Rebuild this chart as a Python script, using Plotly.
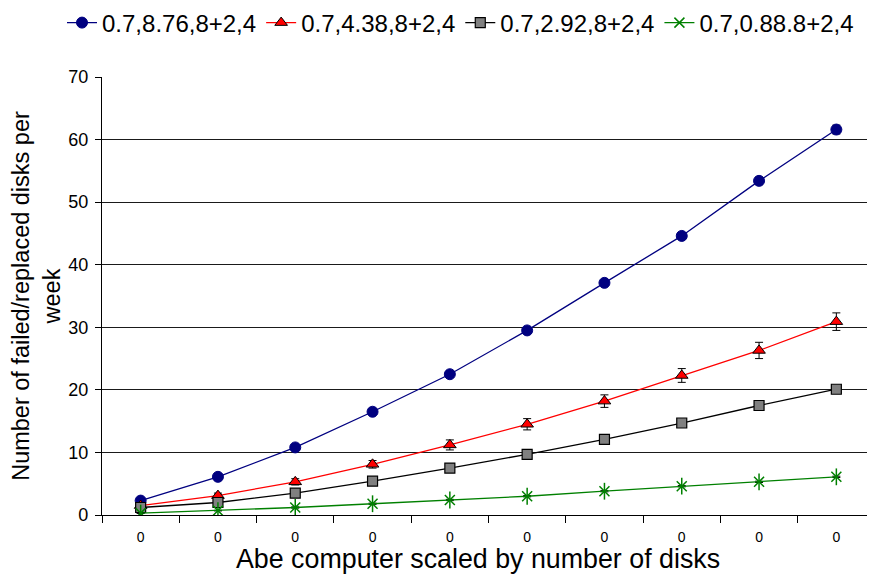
import plotly.graph_objects as go

categories = ["0"] * 10
series_names = ["0.7,8.76,8+2,4", "0.7,4.38,8+2,4", "0.7,2.92,8+2,4", "0.7,0.88.8+2,4"]
blue_vals = [2.3, 6.1, 10.8, 16.5, 22.5, 29.5, 37.1, 44.6, 53.4, 61.6]
red_vals = [1.5, 3.1, 5.3, 8.1, 11.2, 14.5, 18.2, 22.3, 26.3, 30.9]
gray_vals = [1.2, 2.0, 3.5, 5.4, 7.5, 9.7, 12.1, 14.7, 17.5, 20.1]
green_vals = [0.3, 0.7, 1.2, 1.8, 2.4, 3.0, 3.8, 4.6, 5.3, 6.1]
blue_err = [0.2, 0.2, 0.3, 0.3, 0.3, 0.4, 0.4, 0.5, 0.6, 0.7]
red_err = [0.3, 0.4, 0.5, 0.6, 0.8, 0.9, 1.0, 1.1, 1.3, 1.4]
gray_err = [0.1, 0.1, 0.1, 0.2, 0.2, 0.2, 0.2, 0.3, 0.3, 0.3]
green_err = [0.05, 0.05, 0.1, 0.1, 0.1, 0.1, 0.1, 0.1, 0.1, 0.1]
y_ticks = [0, 10, 20, 30, 40, 50, 60, 70]
x_title = "Abe computer scaled by number of disks"
y_title = "Number of failed/replaced disks per<br>week"

x = list(range(len(categories)))

styles = [
    dict(vals=blue_vals, err=blue_err, line="#000080", marker=dict(symbol="circle", size=11, color="#000080", line=dict(color="#000080", width=1))),
    dict(vals=red_vals, err=red_err, line="#FF0000", marker=dict(symbol="triangle-up", size=11, color="#FF0000", line=dict(color="#000000", width=1))),
    dict(vals=gray_vals, err=gray_err, line="#000000", marker=dict(symbol="square", size=10, color="#808080", line=dict(color="#000000", width=1.2))),
    dict(vals=green_vals, err=green_err, line="#008000", marker=dict(symbol="x-thin-open", size=10, color="#008000", line=dict(color="#008000", width=1.5))),
]

fig = go.Figure()
for name, s in zip(series_names, styles):
    fig.add_trace(go.Scatter(
        x=x, y=s["vals"], name=name, mode="lines+markers",
        line=dict(color=s["line"], width=1.3),
        marker=s["marker"],
        error_y=dict(type="data", array=s["err"], visible=True, color="#000000", thickness=1, width=4),
    ))
# vertical stroke of the green star marker
fig.add_trace(go.Scatter(
    x=x, y=green_vals, mode="markers", showlegend=False, hoverinfo="skip",
    marker=dict(symbol="line-ns-open", size=12, color="#008000", line=dict(color="#008000", width=1.5)),
))

# page body has an 8px default margin; the figure is sized so the page matches 875x574
W, H = 867, 566
L, T, B = 94, 69, 59
plot_w = W - L
plot_h = H - T - B

fig.update_layout(
    width=W, height=H,
    margin=dict(l=L, r=0, t=T, b=B, autoexpand=False),
    paper_bgcolor="white", plot_bgcolor="white",
    font=dict(family="Liberation Sans, Arial, sans-serif", color="#000000"),
    showlegend=True,
    legend=dict(orientation="h", x=(54 - L) / plot_w, xanchor="left", xref="paper",
                y=(plot_h + T - 15) / plot_h, yanchor="middle", yref="paper",
                font=dict(size=24), itemwidth=30, tracegroupgap=0),
    xaxis=dict(
        range=[-0.5, 9.5], tickmode="array", tickvals=x, ticktext=categories,
        ticks="", tickfont=dict(size=14), ticklabelstandoff=9,
        showgrid=False, zeroline=False, automargin=False,
        showline=True, linecolor="#000000", linewidth=1.2,
        minor=dict(tickmode="array", tickvals=[i - 0.5 for i in range(11)], ticks="outside", ticklen=7, tickcolor="#000000", showgrid=False),
    ),
    yaxis=dict(
        range=[0, 70], tickmode="array", tickvals=y_ticks, ticks="outside", ticklen=6,
        tickcolor="#000000", tickfont=dict(size=18), ticklabelstandoff=3,
        showgrid=True, gridcolor="#1a1a1a", gridwidth=1,
        zeroline=False, showline=True, linecolor="#000000", linewidth=1.2, automargin=False,
        title=dict(text=y_title, font=dict(size=23.5), standoff=14),
    ),
    annotations=[dict(
        text=x_title, xref="paper", yref="paper",
        x=(470 - L) / plot_w, y=(plot_h + T - 551) / plot_h,
        xanchor="center", yanchor="middle", showarrow=False,
        font=dict(size=26.8, color="#000000"),
    )],
)

fig.write_html("out.html")
